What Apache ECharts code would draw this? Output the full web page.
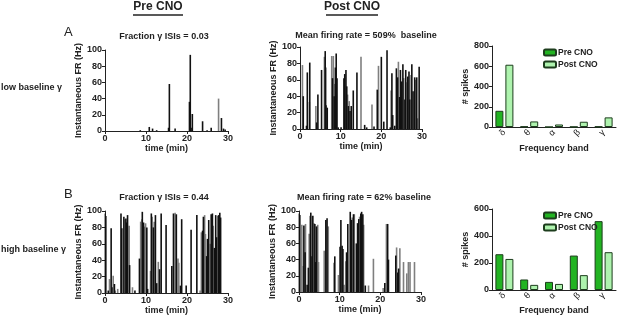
<!DOCTYPE html>
<html>
<head>
<meta charset="utf-8">
<script src="https://cdn.jsdelivr.net/npm/echarts@6/dist/echarts.min.js"></script>
<style>
  html, body { margin: 0; padding: 0; background: #fff; }
  #fig { width: 617px; height: 316px; }
</style>
</head>
<body>
<div id="fig"></div>
<script>
// spike trains: [time (min), instantaneous FR (Hz)]
var preLowBlack = [[8.6,1],[10.8,5],[11.6,3],[12.6,1],[15.5,4],[15.7,58],[17.1,3],[20.6,36],[20.8,94],[21.0,4],[21.3,21],[23.8,12],[24.9,1],[25.9,4],[28.4,16],[28.9,3],[29.3,2]];
var preLowGrey = [[27.7,40]];

var postLowBlack = [[0.8,40],[1.6,4],[1.8,69],[2.4,81],[4.1,8],[4.4,42],[5.3,72],[6.2,95],[6.3,75],[6.4,29],[6.7,26],[8.0,62],[8.4,40],[8.7,75],[8.9,92],[9.1,62],[9.4,2],[10.1,2],[10.8,62],[11.0,67],[11.3,72],[11.5,52],[11.9,28],[12.3,22],[12.6,28],[13.1,47],[14.0,69],[15.9,5],[16.4,2],[18.2,3],[19.0,48],[20.0,88],[20.6,9],[21.4,96],[22.2,2],[22.6,68],[22.8,17],[23.3,4],[23.7,74],[24.0,63],[24.5,39],[24.7,72],[25.0,58],[25.3,79],[25.8,36],[26.0,72],[26.5,64],[26.8,70],[27.0,36],[27.5,79],[27.8,46],[28.2,63],[28.7,63],[29.3,76]];
var postLowGrey = [[0.6,78],[2.3,33],[3.9,28],[6.0,88],[7.8,89],[8.2,89],[8.5,55],[11.7,42],[12.1,34],[15.0,88],[17.7,30],[19.3,77],[22.4,47],[24.2,82],[25.5,62],[26.3,57],[27.3,66],[28.4,60],[28.9,13]];

var preHighBlack = [[0.0,97],[0.2,94],[0.8,3],[1.5,79],[1.7,7],[2.3,11],[3.9,97],[4.1,79],[4.6,93],[5.1,91],[5.3,86],[5.5,95],[6.0,34],[7.3,3],[8.4,42],[9.1,99],[9.4,86],[10.2,80],[10.4,5],[11.3,97],[11.8,80],[12.3,95],[12.6,12],[13.3,29],[13.7,97],[14.9,83],[16.3,33],[16.7,97],[17.4,96],[18.4,9],[18.7,90],[19.8,9],[21.0,77],[22.4,95],[23.8,76],[24.0,93],[24.8,45],[25.0,66],[25.3,89],[25.9,96],[26.2,97],[26.7,55],[27.0,95],[27.2,68],[27.7,95],[28.0,98],[28.2,92]];
var preHighGrey = [[1.1,17],[2.0,21],[2.5,3],[3.1,5],[4.9,90],[5.9,82],[6.7,7],[8.7,87],[9.0,90],[9.6,81],[9.9,85],[11.1,27],[11.5,93],[12.0,87],[13.0,38],[17.1,98],[17.8,42],[18.0,37],[23.2,3],[23.5,74],[24.3,95],[24.5,72],[25.7,60],[26.4,82],[27.5,94]];

var postHighBlack = [[0.0,97],[0.2,95],[1.2,82],[1.5,49],[2.0,9],[2.3,30],[2.8,94],[2.9,98],[3.2,44],[3.4,94],[3.9,84],[4.1,37],[4.3,81],[6.6,89],[6.9,91],[8.8,44],[10.1,56],[10.3,89],[10.6,57],[10.8,53],[11.7,49],[12.0,84],[12.6,99],[12.9,89],[13.4,96],[14.1,60],[14.4,85],[14.7,90],[15.2,97],[15.4,99],[15.7,96],[16.3,8],[21.1,11],[21.8,84],[22.0,40],[23.8,45],[24.3,24],[24.5,29]];
var postHighGrey = [[0.7,83],[1.0,32],[1.6,84],[2.5,72],[3.7,85],[4.6,83],[4.8,37],[6.2,51],[7.2,81],[8.6,36],[9.7,21],[11.1,9],[11.5,38],[13.1,92],[13.6,96],[14.9,93],[15.9,83],[17.1,8],[18.3,41],[20.7,5],[21.5,84],[24.0,55],[24.8,54],[25.7,37],[26.5,23],[26.9,37],[27.3,37],[28.4,37]];

// spike counts per frequency band
var bands = ['δ', 'θ', 'α', 'β', 'γ'];
var lowPre = [160, 5, 0, 2, 5];
var lowPost = [615, 55, 25, 52, 95];
var highPre = [265, 78, 60, 255, 510];
var highPost = [230, 38, 45, 110, 280];

var FONT = 'Liberation Sans, Arial, sans-serif';
var INK = '#222';

function spikeItems(black, grey) {
  var out = [];
  grey.forEach(function (p) { out.push({ value: p, itemStyle: { color: '#7f7f7f' } }); });
  black.forEach(function (p) { out.push({ value: p, itemStyle: { color: '#111' } }); });
  return out;
}

function axisBase() {
  return {
    axisLine: { show: true, lineStyle: { color: INK, width: 1 } },
    axisTick: { show: true, inside: false, length: 3, lineStyle: { color: INK } },
    axisLabel: { color: INK, fontSize: 9, fontWeight: 'bold', fontFamily: FONT, margin: 3 },
    splitLine: { show: false },
    nameTextStyle: { color: INK, fontSize: 9, fontWeight: 'bold', fontFamily: FONT }
  };
}

function timeAxis(i, gap) {
  return Object.assign(axisBase(), {
    type: 'value', gridIndex: i, min: 0, max: 30, interval: 10,
    name: 'time (min)', nameLocation: 'middle', nameGap: gap
  });
}
function frAxis(i) {
  return Object.assign(axisBase(), {
    type: 'value', gridIndex: i, min: 0, max: 100, interval: 20,
    name: 'Instantaneous FR (Hz)', nameLocation: 'middle', nameGap: 19
  });
}
function bandAxis(i, gap) {
  var a = Object.assign(axisBase(), {
    type: 'category', gridIndex: i, data: bands,
    name: 'Frequency band', nameLocation: 'middle', nameGap: gap
  });
  a.axisTick = { show: false };
  a.axisLabel = { color: INK, fontSize: 9, fontFamily: FONT, rotate: 45, margin: 4 };
  return a;
}
function countAxis(i, max) {
  return Object.assign(axisBase(), {
    type: 'value', gridIndex: i, min: 0, max: max, interval: 200,
    name: '# spikes', nameLocation: 'middle', nameGap: 22
  });
}

var grids = [
  { left: 105, top: 50, width: 123, height: 81 },
  { left: 300, top: 47, width: 122, height: 82 },
  { left: 492, top: 46, width: 124, height: 81 },
  { left: 105, top: 211, width: 123, height: 82 },
  { left: 299, top: 211, width: 122, height: 81 },
  { left: 492, top: 209, width: 124, height: 81 }
];

function spikeSeries(i, black, grey) {
  return {
    type: 'bar', xAxisIndex: i, yAxisIndex: i, barWidth: 1.6,
    data: spikeItems(black, grey)
  };
}
function countSeries(i, name, values, color) {
  return {
    type: 'bar', name: name, xAxisIndex: i, yAxisIndex: i,
    barWidth: 8, barGap: '25%', data: values,
    itemStyle: { color: color, borderColor: '#1d3d1d', borderWidth: 1 }
  };
}

function bandLegend(top) {
  return {
    orient: 'vertical', left: 543, top: top, padding: 0,
    itemWidth: 12, itemHeight: 6, itemGap: 3,
    data: ['Pre CNO', 'Post CNO'],
    textStyle: { fontSize: 8.5, fontWeight: 'bold', fontFamily: FONT, color: INK, padding: [0, 0, 0, -3] }
  };
}

// text placed by its anchor point (x, y = top)
function txt(x, y, s, size, weight, align) {
  return {
    type: 'text', x: x, y: y,
    style: {
      text: s, fill: INK, font: (weight || 'bold') + ' ' + size + 'px ' + FONT,
      textAlign: align || 'left', textVerticalAlign: 'top'
    }
  };
}

var chart = echarts.init(document.getElementById('fig'));
chart.setOption({
  animation: false,
  grid: grids,
  xAxis: [timeAxis(0, 13), timeAxis(1, 13), bandAxis(2, 17), timeAxis(3, 12), timeAxis(4, 12), bandAxis(5, 16)],
  yAxis: [frAxis(0), frAxis(1), countAxis(2, 800), frAxis(3), frAxis(4), countAxis(5, 600)],
  legend: [bandLegend(48), bandLegend(211)],
  series: [
    spikeSeries(0, preLowBlack, preLowGrey),
    spikeSeries(1, postLowBlack, postLowGrey),
    countSeries(2, 'Pre CNO', lowPre, '#22b322'),
    countSeries(2, 'Post CNO', lowPost, '#aef3ae'),
    spikeSeries(3, preHighBlack, preHighGrey),
    spikeSeries(4, postHighBlack, postHighGrey),
    countSeries(5, 'Pre CNO', highPre, '#22b322'),
    countSeries(5, 'Post CNO', highPost, '#aef3ae')
  ],
  graphic: [
    txt(158, 1, 'Pre CNO', 12, 'bold', 'center'),
    txt(352, 1, 'Post CNO', 12, 'bold', 'center'),
    { type: 'line', shape: { x1: 133, y1: 15, x2: 183, y2: 15 }, style: { stroke: INK, lineWidth: 1.5 } },
    { type: 'line', shape: { x1: 326, y1: 15, x2: 378, y2: 15 }, style: { stroke: INK, lineWidth: 1.5 } },
    txt(64, 26, 'A', 13, 'normal'),
    txt(64, 188, 'B', 13, 'normal'),
    txt(164, 32, 'Fraction γ ISIs = 0.03', 9, 'bold', 'center'),
    txt(366, 31, 'Mean firing rate = 509%  baseline', 9, 'bold', 'center'),
    txt(164, 193, 'Fraction γ ISIs = 0.44', 9, 'bold', 'center'),
    txt(364, 193, 'Mean firing rate = 62% baseline', 9, 'bold', 'center'),
    txt(1, 83, 'low baseline γ', 9, 'bold'),
    txt(1, 245, 'high baseline γ', 9, 'bold')
  ]
});
</script>
</body>
</html>
